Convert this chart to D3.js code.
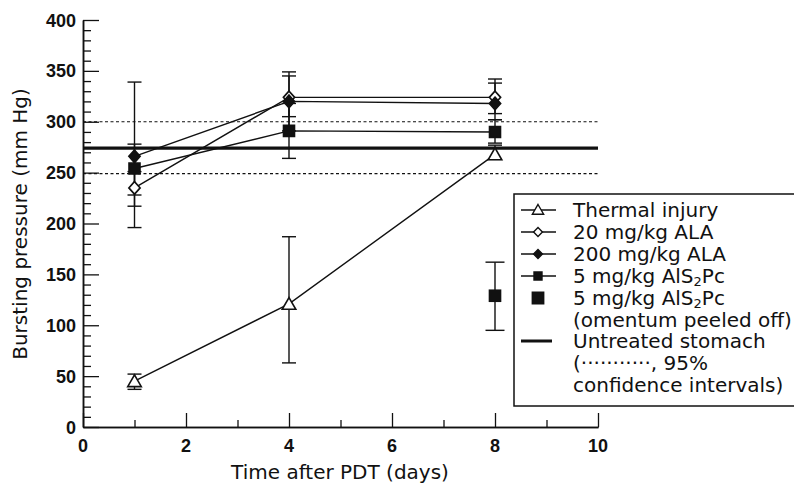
<!DOCTYPE html>
<html>
<head>
<meta charset="utf-8">
<script src="https://cdn.jsdelivr.net/npm/d3@7"></script>
<style>
  body { margin: 0; background: #fff; }
  svg text { font-family: "DejaVu Sans", "Liberation Sans", sans-serif; fill: #111; }
  svg text.tickLabel { font-family: "Liberation Sans", Arial, sans-serif; font-weight: bold; font-size: 18px; }
</style>
</head>
<body>
<div class="chart"></div>
<script>
// days after PDT
var days = [1, 4, 8];

// mean bursting pressure (mm Hg) with error bar limits
var thermal     = [45, 121, 268];
var thermalLo   = [37, 63, 263];
var thermalHi   = [52, 187, 277];

var ala20       = [235, 324, 324];
var ala20Lo     = [217, 305, 308];
var ala20Hi     = [251, 345, 342];

var ala200      = [266, 320, 318];
var ala200Lo    = [196, 291, 302];
var ala200Hi    = [339, 349, 338];

var als2pc      = [254, 291, 290];
var als2pcLo    = [228, 264, 279];
var als2pcHi    = [278, 318, 302];

// omentum peeled off, day 8 only
var peeledDay = [8];
var peeled    = [129];
var peeledLo  = [95];
var peeledHi  = [162];

// untreated stomach and 95% confidence limits
var untreated = 274;
var ciLimits  = [249, 300];

var xTicks = [0, 2, 4, 6, 8, 10];
var xMinor = [1, 3, 5, 7, 9];
var yTicks = [0, 50, 100, 150, 200, 250, 300, 350, 400];
var yMinor = d3.range(10, 400, 10).filter(function(d){ return d % 50 !== 0; });

var legendLines = ["Thermal injury", "20 mg/kg ALA", "200 mg/kg ALA", "5 mg/kg AlS2Pc",
                   "5 mg/kg AlS2Pc", "(omentum peeled off)", "Untreated stomach",
                   "(\u00b7\u00b7\u00b7\u00b7\u00b7\u00b7\u00b7\u00b7\u00b7\u00b7\u00b7, 95%",
                   "confidence intervals)"];

var w = 794, h = 484;
var svg = d3.select("div.chart").append("svg")
    .attr("width", w).attr("height", h);

var x = d3.scaleLinear().domain([0, 10]).range([83, 598]);
var y = d3.scaleLinear().domain([0, 400]).range([427, 20]);

//axes: ticks drawn inward, major and minor as separate axes
function styleAxis(g) {
  g.selectAll(".domain").attr("stroke", "#111").attr("stroke-width", 1.5);
  g.selectAll(".tick line").attr("stroke", "#111").attr("stroke-width", 1.3);
  g.selectAll(".tick text").remove();
}

svg.append("g").attr("transform", "translate(0," + y(0) + ")")
  .call(d3.axisBottom(x).tickValues(xMinor).tickSizeInner(-7).tickSizeOuter(0).tickFormat(""))
  .call(styleAxis);
svg.append("g").attr("transform", "translate(0," + y(0) + ")")
  .call(d3.axisBottom(x).tickValues(xTicks).tickSizeInner(-14).tickSizeOuter(0).tickFormat(""))
  .call(styleAxis);

svg.append("g").attr("transform", "translate(" + x(0) + ",0)")
  .call(d3.axisLeft(y).tickValues(yMinor).tickSizeInner(-8).tickSizeOuter(0).tickFormat(""))
  .call(styleAxis);
svg.append("g").attr("transform", "translate(" + x(0) + ",0)")
  .call(d3.axisLeft(y).tickValues(yTicks).tickSizeInner(-16).tickSizeOuter(0).tickFormat(""))
  .call(styleAxis);

//tick labels
svg.append("g").selectAll("text").data(xTicks).enter().append("text")
    .attr("class", "tickLabel")
    .attr("x", function(d){ return x(d); })
    .attr("y", 452)
    .attr("text-anchor", "middle")
    .text(function(d){ return d; });

svg.append("g").selectAll("text").data(yTicks).enter().append("text")
    .attr("class", "tickLabel")
    .attr("x", 76)
    .attr("y", function(d){ return y(d) + 6.5; })
    .attr("text-anchor", "end")
    .text(function(d){ return d; });

//axis titles
svg.append("text")
    .attr("transform", "translate(27,224) rotate(-90)")
    .attr("text-anchor", "middle")
    .style("font-size", "20px")
    .text("Bursting pressure (mm Hg)");

svg.append("text")
    .attr("x", 340).attr("y", 479)
    .attr("text-anchor", "middle")
    .style("font-size", "20px")
    .text("Time after PDT (days)");

//untreated reference lines
svg.append("g").selectAll("line").data(ciLimits).enter().append("line")
    .attr("x1", x(0)).attr("x2", x(10))
    .attr("y1", function(d){ return y(d); }).attr("y2", function(d){ return y(d); })
    .attr("stroke", "#111").attr("stroke-width", 1.2).attr("stroke-dasharray", "3,2.5");

svg.append("line")
    .attr("x1", x(0)).attr("x2", x(10))
    .attr("y1", y(untreated)).attr("y2", y(untreated))
    .attr("stroke", "#111").attr("stroke-width", 3.2);

var series = [
  {vals: thermal, lo: thermalLo, hi: thermalHi, sym: d3.symbolTriangle, fill: "#fff", size: 80},
  {vals: ala20, lo: ala20Lo, hi: ala20Hi, sym: d3.symbolDiamond2, fill: "#fff", size: 80},
  {vals: ala200, lo: ala200Lo, hi: ala200Hi, sym: d3.symbolDiamond2, fill: "#111", size: 80},
  {vals: als2pc, lo: als2pcLo, hi: als2pcHi, sym: d3.symbolSquare, fill: "#111", size: 121}
];

var line = d3.line().x(function(d){ return x(d[0]); }).y(function(d){ return y(d[1]); });

function errorBars(g, xs, lo, hi, half) {
  xs.forEach(function(dx, i){
    var px = x(dx);
    g.append("line").attr("x1", px).attr("x2", px).attr("y1", y(lo[i])).attr("y2", y(hi[i]));
    [lo[i], hi[i]].forEach(function(v){
      g.append("line").attr("x1", px - half).attr("x2", px + half).attr("y1", y(v)).attr("y2", y(v));
    });
  });
  g.selectAll("line").attr("stroke", "#111").attr("stroke-width", 1.4);
}

series.forEach(function(s){
  var g = svg.append("g");
  errorBars(g, days, s.lo, s.hi, 7);
  g.append("path")
    .datum(days.map(function(d, i){ return [d, s.vals[i]]; }))
    .attr("d", line).attr("fill", "none").attr("stroke", "#111").attr("stroke-width", 1.4);
});

series.forEach(function(s){
  svg.append("g").selectAll("path").data(days).enter().append("path")
    .attr("d", d3.symbol().type(s.sym).size(s.size))
    .attr("transform", function(d, i){
      var dy = s.sym === d3.symbolTriangle ? 1.5 : 0;
      var sc = s.sym === d3.symbolDiamond2 ? " scale(1,1.12)" : "";
      return "translate(" + x(d) + "," + (y(s.vals[i]) + dy) + ")" + sc;
    })
    .attr("fill", s.fill).attr("stroke", "#111").attr("stroke-width", 1.6);
});

//peeled omentum point
var gp = svg.append("g");
errorBars(gp, peeledDay, peeledLo, peeledHi, 9.5);
gp.selectAll("path.pt").data(peeledDay).enter().append("path")
  .attr("d", d3.symbol().type(d3.symbolSquare).size(160))
  .attr("transform", function(d, i){ return "translate(" + x(d) + "," + y(peeled[i]) + ")"; })
  .attr("fill", "#111");

//legend
var lg = svg.append("g");
lg.append("rect").attr("x", 514).attr("y", 194).attr("width", 300).attr("height", 212)
  .attr("fill", "#fff").attr("stroke", "#111").attr("stroke-width", 1.5);

var rowY = [210, 232, 254, 276, 298, 320, 341, 363, 385];
var legendSym = [
  {sym: d3.symbolTriangle, fill: "#fff", size: 55, line: true},
  {sym: d3.symbolDiamond2, fill: "#fff", size: 50, line: true},
  {sym: d3.symbolDiamond2, fill: "#111", size: 50, line: true},
  {sym: d3.symbolSquare, fill: "#111", size: 64, line: true},
  {sym: d3.symbolSquare, fill: "#111", size: 130, line: false}
];

legendSym.forEach(function(s, i){
  if (s.line) {
    lg.append("line").attr("x1", 521).attr("x2", 556).attr("y1", rowY[i]).attr("y2", rowY[i])
      .attr("stroke", "#111").attr("stroke-width", 1.4);
  }
  lg.append("path").attr("d", d3.symbol().type(s.sym).size(s.size))
    .attr("transform", "translate(538," + (rowY[i] + (s.sym === d3.symbolTriangle ? 1 : 0)) + ")")
    .attr("fill", s.fill).attr("stroke", "#111").attr("stroke-width", 1.4);
});

lg.append("line").attr("x1", 521).attr("x2", 552).attr("y1", rowY[6]).attr("y2", rowY[6])
  .attr("stroke", "#111").attr("stroke-width", 3);

var lt = lg.append("g").selectAll("text").data(legendLines).enter().append("text")
  .attr("x", 573)
  .attr("y", function(d, i){ return rowY[i] + 7; })
  .style("font-size", "20px");

lt.each(function(d){
  var t = d3.select(this);
  if (d.indexOf("AlS2Pc") >= 0) {
    t.append("tspan").text("5 mg/kg AlS");
    t.append("tspan").attr("dy", 3).style("font-size", "13px").text("2");
    t.append("tspan").attr("dy", -3).text("Pc");
  } else {
    t.text(d);
  }
});
</script>
</body>
</html>
